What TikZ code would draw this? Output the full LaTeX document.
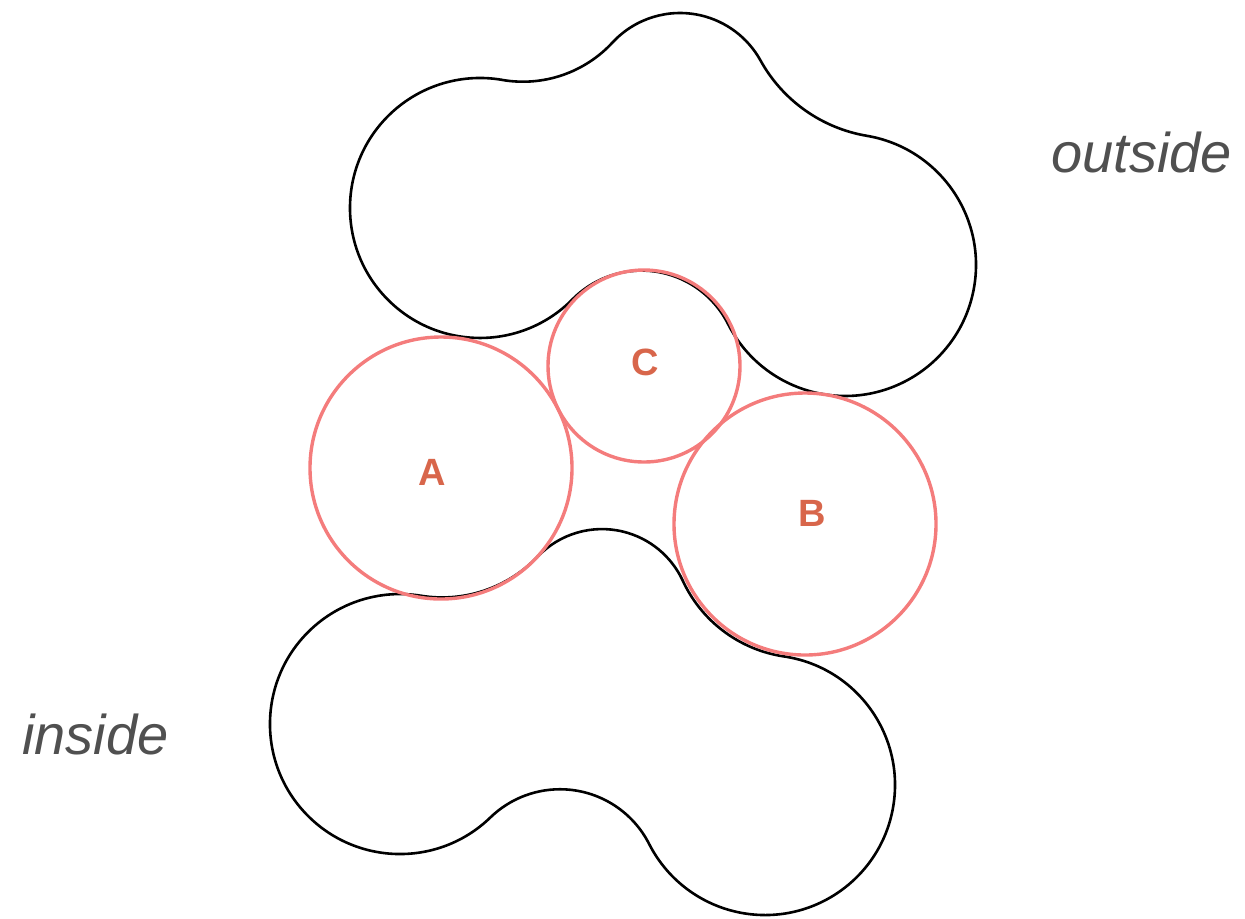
\documentclass[tikz,border=0pt]{standalone}
\usepackage{fontspec}
\setsansfont{Liberation Sans}
\usetikzlibrary{positioning}
\definecolor{ballred}{HTML}{F47C7C}
\definecolor{balltext}{HTML}{D8664B}
\definecolor{sidegray}{HTML}{505050}
\tikzset{
  blobline/.style={draw=black, line width=1.3pt, line join=round},
  ball/.style={circle, draw=ballred, line width=1.7pt, inner sep=0pt},
  balltag/.style={text=balltext, inner sep=0pt, font=\sffamily\bfseries\fontsize{19}{22}\selectfont},
  sidelabel/.style={text=sidegray, inner sep=0pt, font=\sffamily\itshape\fontsize{28}{33}\selectfont}
}

\begin{document}
\begin{tikzpicture}[x=0.5pt, y=-0.5pt]
  \useasboundingbox (0,0) rectangle (1245,918);
  % upper blob: three lobes joined by concave arcs
  \draw[blobline] (502.1,79.9)
    arc[start angle=-99.82, end angle=-42.74, radius=61pt]
    arc[start angle=137.20, end angle=28.94, radius=46pt]
    arc[start angle=-151.06, end angle=-99.59, radius=75pt]
    arc[start angle=80.42, end angle=-153.24, radius=65.5pt]
    arc[start angle=26.72, end angle=135.34, radius=48.5pt]
    arc[start angle=-44.69, end angle=-279.79, radius=65pt] -- cycle;
  % lower blob
  \draw[blobline] (420.9,595.7)
    arc[start angle=-99.28, end angle=-43.68, radius=66pt]
    arc[start angle=136.32, end angle=24.84, radius=44.5pt]
    arc[start angle=-155.19, end angle=-98.43, radius=66.5pt]
    arc[start angle=81.60, end angle=-153.06, radius=65pt]
    arc[start angle=26.95, end angle=134.11, radius=50pt]
    arc[start angle=-45.94, end angle=-279.25, radius=65pt] -- cycle;
  % balls
  \node[ball, minimum size=131pt] (a) at (441,468) {};
  \node[ball, minimum size=131pt] (b) at (805,524) {};
  \node[ball, minimum size=96pt] (c) at (644,366) {};
  \node[balltag] (a tag) at (432,472) {A};
  \node[balltag] (b tag) at (812,513) {B};
  \node[balltag] (c tag) at (645,362) {C};
  % sides
  \node[sidelabel, anchor=base west] (outside) at (1051,172) {outside};
  \node[sidelabel, anchor=base west] (inside) at (22,754) {inside};
\end{tikzpicture}
\end{document}
